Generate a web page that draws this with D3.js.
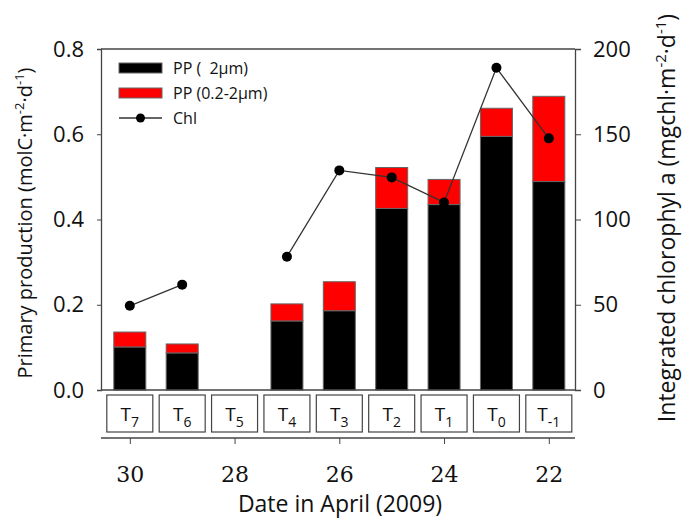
<!DOCTYPE html>
<html>
<head>
<meta charset="utf-8">
<script src="https://cdn.jsdelivr.net/npm/d3@7"></script>
<style>
  body { margin: 0; background: #fff; }
  text { font-family: "Open Sans", sans-serif; fill: #111; }
</style>
</head>
<body>
<div id="chart"></div>
<script>
// Sampling stations, the day in April and the values
const stations = ["7", "6", "5", "4", "3", "2", "1", "0", "-1"];
const dates = [30, 29, 28, 27, 26, 25, 24, 23, 22];
const ppLarge = [0.101, 0.087, null, 0.162, 0.186, 0.426, 0.435, 0.595, 0.489];
const ppSmall = [0.035, 0.021, null, 0.040, 0.068, 0.096, 0.059, 0.066, 0.200];
const chl = [49.4, 61.8, null, 78.2, 128.8, 124.7, 110, 189, 147.6];
const leftTicks = [0, 0.2, 0.4, 0.6, 0.8];
const rightTicks = [0, 50, 100, 150, 200];
const dateTicks = [30, 28, 26, 24, 22];

const width = 682, height = 532;
const plot = { left: 101, right: 575, top: 49, bottom: 390 };
const boxTop = 395, boxH = 37, boxW = 46;
const axisY = 438;

const svg = d3.select("#chart")
    .append("svg")
    .attr("width", width)
    .attr("height", height);

const x = d3.scaleLinear().domain([30.55, 21.5]).range([plot.left, plot.right]);
const yL = d3.scaleLinear().domain([0, 0.8]).range([plot.bottom, plot.top]);
const yR = d3.scaleLinear().domain([0, 200]).range([plot.bottom, plot.top]);

const data = stations.map((s, i) => ({
    station: s, date: dates[i], large: ppLarge[i], small: ppSmall[i], chl: chl[i]
}));

// bars
const barW = 32;
const bars = data.filter(d => d.large != null);
svg.selectAll("rect.large")
    .data(bars)
    .enter()
    .append("rect")
    .attr("x", d => x(d.date) - barW / 2)
    .attr("y", d => yL(d.large))
    .attr("width", barW)
    .attr("height", d => yL(0) - yL(d.large))
    .attr("fill", "#000")
    .attr("stroke", "#666")
    .attr("stroke-width", 1);

svg.selectAll("rect.small")
    .data(bars)
    .enter()
    .append("rect")
    .attr("x", d => x(d.date) - barW / 2)
    .attr("y", d => yL(d.large + d.small))
    .attr("width", barW)
    .attr("height", d => yL(d.large) - yL(d.large + d.small))
    .attr("fill", "#ff0000")
    .attr("stroke", "#666")
    .attr("stroke-width", 1);

// chlorophyll line
const line = d3.line()
    .defined(d => d.chl != null)
    .x(d => x(d.date))
    .y(d => yR(d.chl));

svg.append("path")
    .datum(data)
    .attr("fill", "none")
    .attr("stroke", "#333")
    .attr("stroke-width", 1.3)
    .attr("d", line);

svg.selectAll("circle.chl")
    .data(data.filter(d => d.chl != null))
    .enter()
    .append("circle")
    .attr("cx", d => x(d.date))
    .attr("cy", d => yR(d.chl))
    .attr("r", 5)
    .attr("fill", "#000");

// frame
svg.append("line").attr("x1", plot.left).attr("x2", plot.right).attr("y1", plot.top).attr("y2", plot.top)
    .attr("stroke", "#444").attr("stroke-width", 1.3);
svg.append("line").attr("x1", plot.left).attr("x2", plot.right).attr("y1", plot.bottom).attr("y2", plot.bottom)
    .attr("stroke", "#444").attr("stroke-width", 1.3);

// left axis
const axL = svg.append("g")
    .attr("transform", `translate(${plot.left},0)`)
    .call(d3.axisLeft(yL).tickValues(leftTicks).tickFormat(d3.format(".1f")).tickSize(4).tickPadding(13));
axL.select(".domain").attr("stroke", "#444").attr("stroke-width", 1.3);
axL.selectAll(".tick line").attr("stroke", "#444");
axL.selectAll("text").style("font-family", "'Open Sans', sans-serif").style("font-size", "22px").attr("fill", "#111");

// right axis
const axR = svg.append("g")
    .attr("transform", `translate(${plot.right},0)`)
    .call(d3.axisRight(yR).tickValues(rightTicks).tickSize(6).tickPadding(12));
axR.select(".domain").attr("stroke", "#444").attr("stroke-width", 1.3);
axR.selectAll(".tick line").attr("stroke", "#444");
axR.selectAll("text").style("font-family", "'Open Sans', sans-serif").style("font-size", "22px").attr("fill", "#111");

// station boxes
const boxes = svg.selectAll("g.box")
    .data(data)
    .enter()
    .append("g")
    .attr("transform", d => `translate(${x(d.date)},${boxTop})`);
boxes.append("rect")
    .attr("x", -boxW / 2)
    .attr("width", boxW)
    .attr("height", boxH)
    .attr("fill", "#fff")
    .attr("stroke", "#444")
    .attr("stroke-width", 1.2);
const bt = boxes.append("text")
    .attr("y", 26)
    .attr("text-anchor", "middle")
    .style("font-size", "19px");
bt.append("tspan").text("T");
bt.append("tspan").attr("dy", 6).style("font-size", "14px").text(d => d.station);

// date axis
const axD = svg.append("g")
    .attr("transform", `translate(0,${axisY})`)
    .call(d3.axisBottom(x).tickValues(dateTicks).tickSize(6).tickPadding(22));
axD.select(".domain").attr("stroke", "#444").attr("stroke-width", 1.3)
    .attr("d", `M${plot.left},0H${plot.right}`);
axD.selectAll(".tick line").attr("stroke", "#444");
axD.selectAll("text").style("font-family", "'DejaVu Serif', serif").style("font-size", "22px").attr("fill", "#111");

// axis titles
svg.append("text")
    .attr("x", 340).attr("y", 512)
    .attr("text-anchor", "middle")
    .style("font-size", "23px")
    .text("Date in April (2009)");

const tl = svg.append("text")
    .attr("transform", "translate(32,223) rotate(-90)")
    .attr("text-anchor", "middle")
    .style("font-size", "20px");
tl.append("tspan").text("Primary production (molC·m");
tl.append("tspan").attr("dy", -8).style("font-size", "13px").text("-2");
tl.append("tspan").attr("dy", 8).text("·d");
tl.append("tspan").attr("dy", -8).style("font-size", "13px").text("-1");
tl.append("tspan").attr("dy", 8).text(")");

const tr = svg.append("text")
    .attr("transform", "translate(675,218) rotate(-90)")
    .attr("text-anchor", "middle")
    .style("font-size", "23px");
tr.append("tspan").text("Integrated chlorophyl a (mgchl·m");
tr.append("tspan").attr("dy", -9).style("font-size", "15px").text("-2");
tr.append("tspan").attr("dy", 9).text("·d");
tr.append("tspan").attr("dy", -9).style("font-size", "15px").text("-1");
tr.append("tspan").attr("dy", 9).text(")");

// legend
const lg = svg.append("g").attr("transform", "translate(119,0)");
lg.append("rect").attr("y", 63).attr("width", 43).attr("height", 10)
    .attr("fill", "#000").attr("stroke", "#666");
lg.append("rect").attr("y", 88).attr("width", 43).attr("height", 10)
    .attr("fill", "#ff0000").attr("stroke", "#666");
lg.append("line").attr("x1", 0).attr("x2", 43).attr("y1", 118).attr("y2", 118)
    .attr("stroke", "#333").attr("stroke-width", 1.3);
lg.append("circle").attr("cx", 21.5).attr("cy", 118).attr("r", 4.5).attr("fill", "#000");
[["PP (\u00a0\u00a02μm)", 68], ["PP (0.2-2μm)", 93], ["Chl", 118]].forEach(([t, yy]) => {
    lg.append("text").attr("x", 54).attr("y", yy).attr("dy", "0.35em")
        .style("font-size", "16px").text(t);
});
</script>
</body>
</html>
